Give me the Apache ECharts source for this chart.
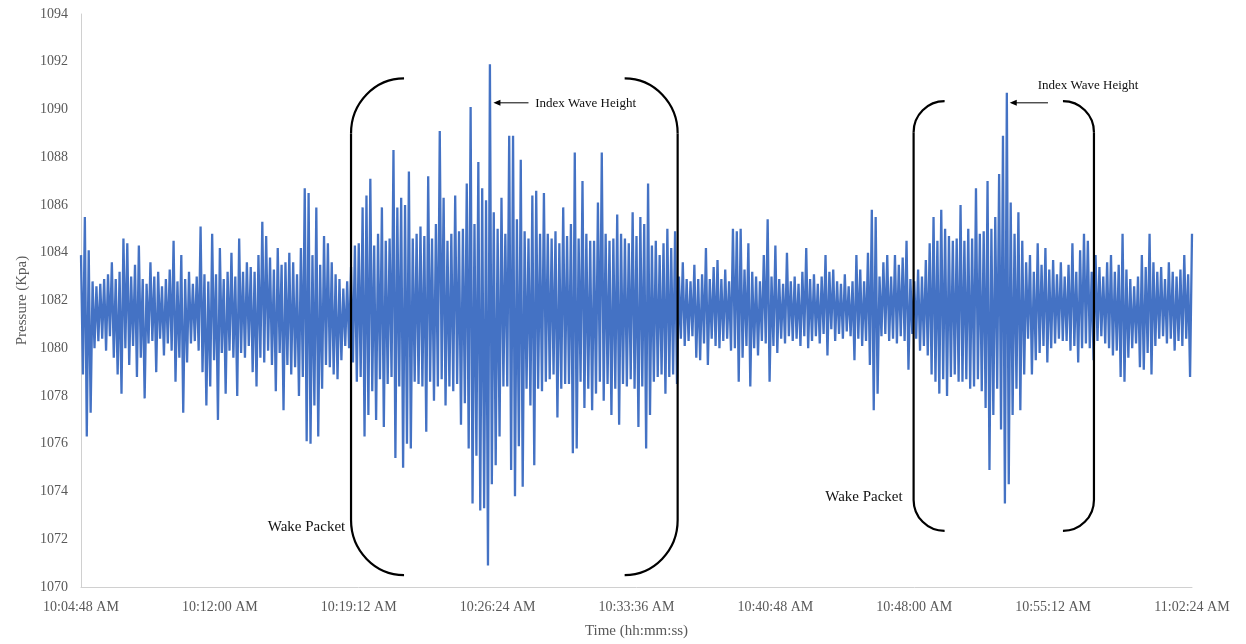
<!DOCTYPE html>
<html>
<head>
<meta charset="utf-8">
<title>Pressure (Kpa)</title>
<script src="https://cdn.jsdelivr.net/npm/echarts@6/dist/echarts.min.js"></script>
<style>
  html, body { margin: 0; padding: 0; background: #ffffff; }
  #chart { width: 1246px; height: 644px; }
</style>
</head>
<body>
<div id="chart"></div>
<script>
// Logger record, one reading every 6 seconds starting at 10:04:48 AM.
const SAMPLE_SECONDS = 6;

// Quiet water before the first wake packet.
const quietStart = [
  1083.9, 1078.9, 1085.5, 1076.3, 1084.1, 1077.3, 1082.8, 1080.0, 1082.6, 1080.3,
  1082.7, 1080.4, 1082.9, 1079.9, 1083.1, 1080.5, 1083.6, 1079.6, 1082.9, 1078.9,
  1083.2, 1078.1, 1084.6, 1080.0, 1084.4, 1079.3, 1083.0, 1080.1, 1083.5, 1078.8,
  1084.3, 1079.6, 1082.9, 1077.9, 1082.7, 1080.2, 1083.6, 1080.3, 1083.0, 1079.0,
  1083.2, 1080.4, 1082.6, 1079.7, 1082.9, 1080.2, 1083.3, 1079.9, 1084.5, 1078.6,
  1082.8, 1079.6, 1083.9, 1077.3, 1082.9, 1079.4, 1083.2, 1080.2, 1082.7, 1080.3,
  1083.0, 1079.9, 1085.1, 1079.0, 1083.1, 1077.6, 1082.8, 1078.4, 1084.8, 1079.5,
  1083.1, 1077.0, 1084.2, 1079.8, 1082.9, 1078.1, 1083.2, 1079.9, 1084.0, 1079.6,
  1083.0, 1078.0, 1084.6, 1079.8, 1083.2, 1079.6, 1083.6, 1080.1, 1083.4, 1079.0,
  1083.2, 1078.4, 1083.9, 1079.6, 1085.3, 1079.4, 1084.7, 1079.9, 1083.8, 1079.3,
  1083.3, 1078.2, 1084.2, 1079.8, 1083.5, 1077.4, 1083.6, 1079.3, 1084.0, 1078.9,
  1083.6, 1079.2, 1083.1, 1078.0, 1084.2, 1078.8, 1086.7, 1076.1, 1086.5, 1076.0,
  1083.9, 1077.6, 1085.9, 1076.3, 1083.5, 1078.3, 1084.7, 1079.3, 1084.4, 1079.2,
  1083.6, 1078.9, 1083.1, 1078.7, 1082.9, 1079.5, 1082.5, 1080.1, 1082.8, 1080.0
];

// First wake packet (contains the record maximum and minimum).
const wakePacket1 = [
  1083.4, 1079.4, 1084.3, 1078.6, 1084.4, 1078.8, 1085.9, 1076.3, 1086.4, 1077.2,
  1087.1, 1078.2, 1084.3, 1077.0, 1084.8, 1078.7, 1085.9, 1076.7, 1084.5, 1078.5,
  1084.6, 1078.8, 1088.3, 1075.4, 1085.9, 1078.4, 1086.3, 1075.0, 1086.0, 1076.0,
  1087.4, 1075.8, 1084.6, 1078.6, 1084.8, 1078.5, 1085.1, 1078.4, 1084.7, 1076.5,
  1087.2, 1078.6, 1084.6, 1077.8, 1085.2, 1078.4, 1089.1, 1078.7, 1086.3, 1077.6,
  1084.5, 1078.4, 1084.8, 1078.2, 1086.4, 1078.5, 1084.9, 1076.8, 1085.0, 1077.7,
  1086.9, 1075.8, 1090.1, 1073.5, 1085.2, 1075.5, 1087.8, 1073.2, 1086.7, 1073.3,
  1086.2, 1070.9, 1091.9, 1074.3, 1085.7, 1075.1, 1085.0, 1076.3, 1086.3, 1078.4,
  1084.8, 1078.4, 1088.9, 1074.9, 1088.9, 1073.8, 1085.4, 1075.9, 1087.9, 1074.2,
  1084.9, 1078.3, 1084.6, 1077.6, 1086.4, 1075.1, 1086.6, 1078.3, 1084.8, 1078.2,
  1086.5, 1078.6, 1084.8, 1078.7, 1084.6, 1078.9, 1084.9, 1077.1, 1084.4, 1078.3,
  1085.9, 1078.5, 1084.7, 1078.5, 1085.2, 1075.6, 1088.2, 1075.8, 1084.6, 1078.6,
  1087.0, 1077.5, 1084.8, 1078.3, 1084.5, 1077.4, 1084.5, 1078.1, 1086.1, 1078.6,
  1088.2, 1077.8, 1084.8, 1078.5, 1084.5, 1077.2, 1084.6, 1078.3, 1085.6, 1076.8,
  1084.8, 1078.5, 1084.6, 1078.4, 1084.4, 1078.7, 1085.7, 1078.3, 1084.7, 1076.7,
  1085.5, 1078.4, 1085.2, 1075.8, 1086.9, 1077.2, 1084.3, 1078.6, 1084.5, 1078.8,
  1083.9, 1078.9, 1084.4, 1078.1, 1085.0, 1078.8, 1084.2, 1078.9, 1084.9
];

// Quiet water between the two packets.
const quietMiddle = [
  1078.5,
  1083.0, 1080.4, 1083.6, 1080.1, 1082.9, 1080.3, 1082.8, 1080.5, 1083.5, 1079.6,
  1082.9, 1079.5, 1083.1, 1080.2, 1084.2, 1079.3, 1082.9, 1080.4, 1083.4, 1080.1,
  1083.7, 1080.0, 1082.9, 1080.3, 1083.3, 1080.4, 1082.8, 1079.9, 1085.0, 1080.0,
  1084.9, 1078.6, 1085.0, 1079.6, 1083.3, 1080.1, 1084.4, 1078.4, 1083.2, 1080.0,
  1083.0, 1079.7, 1082.8, 1080.3, 1083.9, 1080.2, 1085.4, 1078.6, 1083.0, 1080.1,
  1084.3, 1079.8, 1082.9, 1080.4, 1082.7, 1080.2, 1084.0, 1080.5, 1082.8, 1080.3,
  1083.0, 1080.4, 1082.7, 1080.1, 1083.2, 1080.5, 1084.2, 1080.0, 1082.9, 1080.3,
  1083.1, 1080.5, 1082.7, 1080.2, 1083.0, 1080.6, 1083.9, 1079.7, 1083.2, 1080.8,
  1083.3, 1080.3, 1082.8, 1080.6, 1082.7, 1080.4, 1083.1, 1080.7, 1082.6, 1080.5,
  1082.8, 1079.5, 1083.9, 1080.4, 1083.3, 1080.1, 1082.8, 1080.3, 1084.0, 1079.3,
  1085.8, 1077.4, 1085.5, 1078.1, 1083.0, 1080.5, 1083.6, 1080.6, 1083.9, 1080.3,
  1083.0, 1080.4, 1083.9, 1080.2, 1083.5, 1080.5, 1083.8, 1080.3, 1084.5, 1079.1, 1082.9, 1080.6
];

// Second wake packet.
const wakePacket2 = [
  1082.8, 1080.4, 1083.3, 1079.9, 1083.0, 1080.1, 1083.7, 1079.7,
  1084.4, 1078.9, 1085.5, 1078.6, 1084.5, 1078.1, 1085.8, 1078.7, 1085.0, 1078.0,
  1084.7, 1078.8, 1084.5, 1078.9, 1084.6, 1078.6, 1086.0, 1078.6, 1084.5, 1078.7,
  1085.0, 1078.3, 1084.6, 1078.4, 1086.7, 1078.7, 1084.8, 1078.2, 1084.9, 1077.5,
  1087.0, 1074.9, 1085.0, 1077.2, 1085.5, 1078.3, 1087.3, 1076.6, 1088.9, 1073.5,
  1090.7, 1074.3, 1086.1, 1077.2, 1084.8, 1078.3, 1085.7, 1077.4, 1084.5, 1078.9,
  1083.6, 1080.4, 1083.9, 1078.9, 1083.2, 1079.5, 1084.4, 1079.8, 1083.5, 1080.1,
  1084.2, 1079.4, 1083.3, 1080.0, 1083.7, 1080.2, 1083.1, 1080.4, 1083.6, 1080.3,
  1083.0, 1080.3, 1083.5, 1079.9, 1084.4, 1080.1, 1083.2, 1079.4, 1084.1, 1080.0,
  1084.8, 1080.2, 1084.5, 1080.0, 1083.2
];

// Quiet water after the second packet.
const quietEnd = [
  1079.5, 1083.9, 1080.3, 1083.4, 1080.5,
  1083.0, 1080.2, 1083.6, 1080.0, 1083.9, 1079.7, 1083.2, 1079.9, 1083.5, 1078.8,
  1084.8, 1078.6, 1083.3, 1079.6, 1082.9, 1080.0, 1082.6, 1080.2, 1083.0, 1079.2,
  1083.9, 1079.1, 1083.4, 1079.8, 1084.8, 1078.9, 1083.6, 1080.1, 1083.2, 1080.4,
  1083.4, 1080.5, 1082.9, 1080.2, 1083.6, 1080.4, 1083.2, 1079.9, 1083.0, 1080.3,
  1083.3, 1080.1, 1083.9, 1080.4, 1083.1, 1078.8, 1084.8
];

// Clock labels for the time axis, one every 7 min 12 s.
const TICK_SECONDS = 432;
const timeTickLabels = [
  '10:04:48 AM', '10:12:00 AM', '10:19:12 AM', '10:26:24 AM', '10:33:36 AM',
  '10:40:48 AM', '10:48:00 AM', '10:55:12 AM', '11:02:24 AM'
];

// Annotations, in data coordinates (seconds since start, kPa).
const packetBrackets = [
  { open: 840, close: 1856, top: 1091.3, bottom: 1070.5 },
  { open: 2590, close: 3151, top: 1090.35, bottom: 1072.35 }
];
const indexWaveNotes = [
  { tip: [1283, 1090.28], tail: [1392, 1090.28], text: [1413, 1090.24], align: 'left' },
  { tip: [2889, 1090.28], tail: [3008, 1090.28], text: [2976, 1090.99], align: 'left' }
];
const wakePacketNotes = [
  { at: [822, 1072.5] },
  { at: [2556, 1073.75] }
];

const pressure = [].concat(quietStart, wakePacket1, quietMiddle, wakePacket2, quietEnd);
const seriesData = pressure.map((v, i) => [i * SAMPLE_SECONDS, v]);

const SERIF = '"Liberation Serif", "Times New Roman", serif';
const AXIS_GREY = '#595959';

const chart = echarts.init(document.getElementById('chart'));

chart.setOption({
  animation: false,
  backgroundColor: '#ffffff',
  grid: { left: 81, right: 54, top: 14, bottom: 56, containLabel: false },
  xAxis: {
    type: 'value',
    min: 0,
    max: TICK_SECONDS * (timeTickLabels.length - 1),
    interval: TICK_SECONDS,
    name: 'Time (hh:mm:ss)',
    nameLocation: 'middle',
    nameGap: 37,
    nameTextStyle: { fontFamily: SERIF, fontSize: 15, color: AXIS_GREY },
    axisLine: { show: true, lineStyle: { color: '#d0d0d0', width: 1 } },
    axisTick: { show: false },
    splitLine: { show: false },
    axisLabel: {
      margin: 13,
      fontFamily: SERIF,
      fontSize: 14,
      color: AXIS_GREY,
      formatter: v => timeTickLabels[Math.round(v / TICK_SECONDS)] || ''
    }
  },
  yAxis: {
    type: 'value',
    min: 1070,
    max: 1094,
    interval: 2,
    name: 'Pressure (Kpa)',
    nameLocation: 'middle',
    nameGap: 50,
    nameTextStyle: { fontFamily: SERIF, fontSize: 15, color: AXIS_GREY },
    axisLine: { show: true, lineStyle: { color: '#d0d0d0', width: 1 } },
    axisTick: { show: false },
    splitLine: { show: false },
    axisLabel: { margin: 13, fontFamily: SERIF, fontSize: 14, color: AXIS_GREY, formatter: v => String(v) }
  },
  series: [{
    type: 'line',
    data: seriesData,
    showSymbol: false,
    sampling: null,
    lineStyle: { color: '#4472C4', width: 2.3, join: 'miter', miterLimit: 3 },
    itemStyle: { color: '#4472C4' },
    z: 2
  }]
});

// Brackets, arrows and notes are placed through the chart's own scales.
const toPx = (t, v) => chart.convertToPixel({ gridIndex: 0 }, [t, v]);
const ink = { stroke: '#000000', lineWidth: 2.2, fill: 'none' };
const bracketRadii = [[53, 55], [31, 31]];

function bracketSide(x, yT, yB, rx, ry, dir) {
  const k = 0.448;
  const tipX = x + dir * rx;
  return [
    { type: 'bezierCurve', shape: { x1: tipX, y1: yT, cpx1: x + dir * rx * k, cpy1: yT, cpx2: x, cpy2: yT + ry * k, x2: x, y2: yT + ry }, style: ink, z: 10 },
    { type: 'line', shape: { x1: x, y1: yT + ry, x2: x, y2: yB - ry }, style: ink, z: 10 },
    { type: 'bezierCurve', shape: { x1: x, y1: yB - ry, cpx1: x, cpy1: yB - ry * k, cpx2: x + dir * rx * k, cpy2: yB, x2: tipX, y2: yB }, style: ink, z: 10 }
  ];
}

const graphics = [];
packetBrackets.forEach((b, i) => {
  const [xL, yT] = toPx(b.open, b.top);
  const [xR, yB] = toPx(b.close, b.bottom);
  const [rx, ry] = bracketRadii[i];
  graphics.push(...bracketSide(xL, yT, yB, rx, ry, 1));
  graphics.push(...bracketSide(xR, yT, yB, rx, ry, -1));
});

indexWaveNotes.forEach(n => {
  const [tx, ty] = toPx(n.tip[0], n.tip[1]);
  const [lx, ly] = toPx(n.tail[0], n.tail[1]);
  graphics.push({ type: 'line', shape: { x1: tx + 5, y1: ty, x2: lx, y2: ly }, style: { stroke: '#000', lineWidth: 1 }, z: 10 });
  graphics.push({ type: 'polygon', shape: { points: [[tx, ty], [tx + 7, ty - 3], [tx + 7, ty + 3]] }, style: { fill: '#000' }, z: 10 });
  const [px, py] = toPx(n.text[0], n.text[1]);
  graphics.push({
    type: 'text', x: px, y: py, z: 10,
    style: { text: 'Index Wave Height', font: '13px ' + SERIF, fill: '#111111', align: n.align, verticalAlign: 'middle' }
  });
});

wakePacketNotes.forEach(n => {
  const [px, py] = toPx(n.at[0], n.at[1]);
  graphics.push({
    type: 'text', x: px, y: py, z: 10,
    style: { text: 'Wake Packet', font: '15px ' + SERIF, fill: '#111111', align: 'right', verticalAlign: 'middle' }
  });
});

chart.setOption({ graphic: graphics });
</script>
</body>
</html>
